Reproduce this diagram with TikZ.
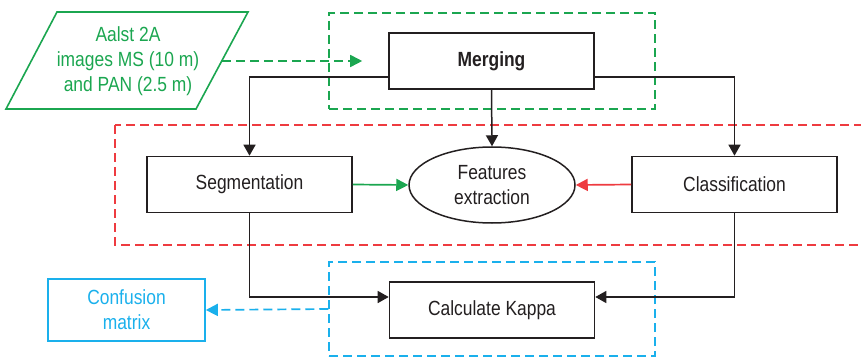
\documentclass[tikz,border=0pt]{standalone}
\usepackage{fontspec}
\setmainfont{Liberation Sans}[FakeStretch=0.85]
\usetikzlibrary{arrows.meta,shapes.geometric}
\definecolor{cgreen}{HTML}{1BA650}
\definecolor{cred}{HTML}{EE3B40}
\definecolor{cblue}{HTML}{1AB0EC}
\definecolor{cdark}{HTML}{231F20}
\tikzset{
  txt/.style={font=\fontsize{20.5}{25}\selectfont, align=center, inner sep=0pt},
  procbox/.style={draw=cdark, line width=1.6pt, minimum width=205pt, minimum height=56pt, txt, text=cdark},
  grpbox/.style={line width=1.5pt, dash pattern=on 9pt off 5pt, minimum width=326pt, inner sep=0pt},
  arr/.style={draw=cdark, line width=1.5pt, -{Triangle[length=11pt,width=12pt]}},
  garr/.style={draw=cgreen, line width=1.7pt, -{Triangle[length=12pt,width=12pt]}},
  rarr/.style={draw=cred, line width=1.7pt, -{Triangle[length=12pt,width=12pt]}},
}
\begin{document}
\begin{tikzpicture}[x=1pt,y=-1pt]
\clip (0,0) rectangle (861,358);
% group boxes
\node[grpbox, draw=cgreen, minimum height=96pt] (g1) at (492,61) {};
\draw[cred, line width=1.5pt, dash pattern=on 9pt off 5pt] (115,125) rectangle (880,245);
\node[grpbox, draw=cblue, minimum height=94pt] (g3) at (492,309) {};
% input parallelogram
\draw[cgreen, line width=1.6pt] (57,12) -- (248,12) -- (196,109) -- (6,109) -- cycle;
\node[txt, text=cgreen] (src) at (128,61) {Aalst 2A\\images MS (10 m)\\and PAN (2.5 m)};
\coordinate (srcR) at (222,61);
% process nodes
\node[procbox, font=\fontsize{20.5}{25}\selectfont\bfseries] (merge) at (491.5,61) {Merging};
\node[procbox] (seg) at (249.5,184.5) {Segmentation};
\node[procbox] (cls) at (734.5,184.5) {Classification};
\node[draw=cdark, line width=1.5pt, ellipse, minimum width=166pt, minimum height=76pt, inner sep=0pt, txt, text=cdark] (feat) at (492,185) {Features\\extraction};
\node[procbox] (kappa) at (492,310) {Calculate Kappa};
\node[draw=cblue, line width=1.6pt, minimum width=157pt, minimum height=62pt, txt, text=cblue] (conf) at (126.5,310) {Confusion\\matrix};
% connectors
\draw[garr, dash pattern=on 9pt off 5pt] (srcR) -- ([xshift=-26pt]merge.west);
\draw[arr] ([yshift=-16pt]merge.west) -| (seg.north);
\draw[arr] (merge.south) -- (feat.north);
\draw[arr] ([yshift=-16pt]merge.east) -| (cls.north);
\draw[garr] (seg.east) -- (feat.west);
\draw[rarr] (cls.west) -- (feat.east);
\draw[arr] (seg.south) |- ([yshift=13pt]kappa.west);
\draw[arr] (cls.south) |- ([yshift=13pt]kappa.east);
\draw[draw=cblue, line width=1.7pt, dash pattern=on 9pt off 5pt, -{Triangle[length=12pt,width=12pt]}] (g3.west) -- (conf.east);
\end{tikzpicture}
\end{document}
